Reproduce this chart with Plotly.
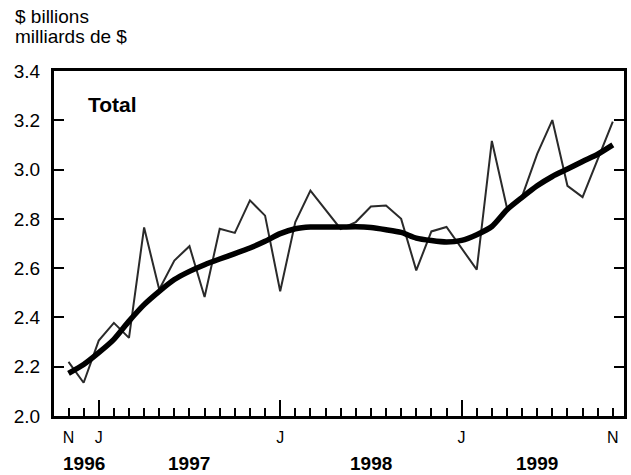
import plotly.graph_objects as go

months = list(range(37))  # Nov 1996 .. Nov 1999
shown_labels = {0: "N", 2: "J", 14: "J", 26: "J", 36: "N"}
jan_positions = [2, 14, 26]

raw = [2.220, 2.135, 2.306, 2.378, 2.317, 2.765, 2.513, 2.631, 2.689, 2.483, 2.760, 2.743,
       2.875, 2.813, 2.506, 2.787, 2.915, 2.837, 2.759, 2.787, 2.850, 2.854, 2.800, 2.591,
       2.749, 2.767, 2.679, 2.594, 3.116, 2.844, 2.891, 3.064, 3.201, 2.934, 2.888, 3.045,
       3.195]
trend = [2.173, 2.209, 2.257, 2.311, 2.385, 2.452, 2.506, 2.554, 2.587, 2.614, 2.637, 2.659,
         2.682, 2.709, 2.740, 2.760, 2.767, 2.767, 2.767, 2.768, 2.765, 2.756, 2.745, 2.722,
         2.712, 2.706, 2.713, 2.736, 2.769, 2.837, 2.887, 2.934, 2.972, 3.002, 3.033, 3.062,
         3.100]

years = ["1996", "1997", "1998", "1999"]
year_pos = [1.0, 8.0, 20.0, 31.0]
yticks = [2.0, 2.2, 2.4, 2.6, 2.8, 3.0, 3.2, 3.4]

FONT = "Arial, Liberation Sans, sans-serif"

fig = go.Figure()
fig.add_trace(go.Scatter(x=months, y=raw, mode="lines",
                         line=dict(color="#2a2a2a", width=2), showlegend=False, hoverinfo="skip"))
fig.add_trace(go.Scatter(x=months, y=trend, mode="lines", xaxis="x2",
                         line=dict(color="#000000", width=5.5, shape="spline", smoothing=0.6),
                         showlegend=False, hoverinfo="skip"))

xr = [-0.96, 36.74]
fig.update_layout(
    width=631, height=475,
    margin=dict(l=54, r=7, t=71, b=59, autoexpand=False),
    paper_bgcolor="white", plot_bgcolor="white",
    font=dict(family=FONT, size=17, color="black"),
    xaxis=dict(range=xr, tickmode="array", tickvals=months,
               ticktext=[shown_labels.get(m, "") for m in months],
               ticks="inside", ticklen=8, tickwidth=2, tickcolor="black",
               showline=True, linewidth=3, linecolor="black", mirror=True,
               showgrid=False, zeroline=False, tickfont=dict(size=16),
               automargin=False, ticklabelstandoff=5),
    xaxis2=dict(range=xr, overlaying="x", anchor="y", side="bottom",
                tickmode="array", tickvals=jan_positions, ticks="inside", ticklen=16,
                tickwidth=2, tickcolor="black", showticklabels=False,
                showline=False, showgrid=False, zeroline=False, automargin=False),
    yaxis=dict(range=[2.0, 3.4], tickmode="array", tickvals=yticks, tickformat=".1f",
               ticks="inside", ticklen=10, tickwidth=2, tickcolor="black",
               showline=True, linewidth=3, linecolor="black", mirror="ticks",
               showgrid=False, zeroline=False, tickfont=dict(size=19),
               automargin=False, ticklabelstandoff=7),
)

for yr, xp in zip(years, year_pos):
    fig.add_annotation(x=xp, y=-0.138, xref="x", yref="paper", text="<b>%s</b>" % yr,
                       showarrow=False, xanchor="center", yanchor="middle",
                       font=dict(size=19, family=FONT))

fig.add_annotation(x=-0.0725, y=1.159, xref="paper", yref="paper", text="$ billions",
                   showarrow=False, xanchor="left", yanchor="middle", font=dict(size=19, family=FONT))
fig.add_annotation(x=-0.0725, y=1.099, xref="paper", yref="paper", text="milliards de $",
                   showarrow=False, xanchor="left", yanchor="middle", font=dict(size=19, family=FONT))
fig.add_annotation(x=0.056, y=0.903, xref="paper", yref="paper", text="<b>Total</b>",
                   showarrow=False, xanchor="left", yanchor="middle", font=dict(size=21, family=FONT))

fig.write_html("out.html", config={"displayModeBar": False},
               post_script="document.body.style.margin='0';document.body.style.overflow='hidden';")
